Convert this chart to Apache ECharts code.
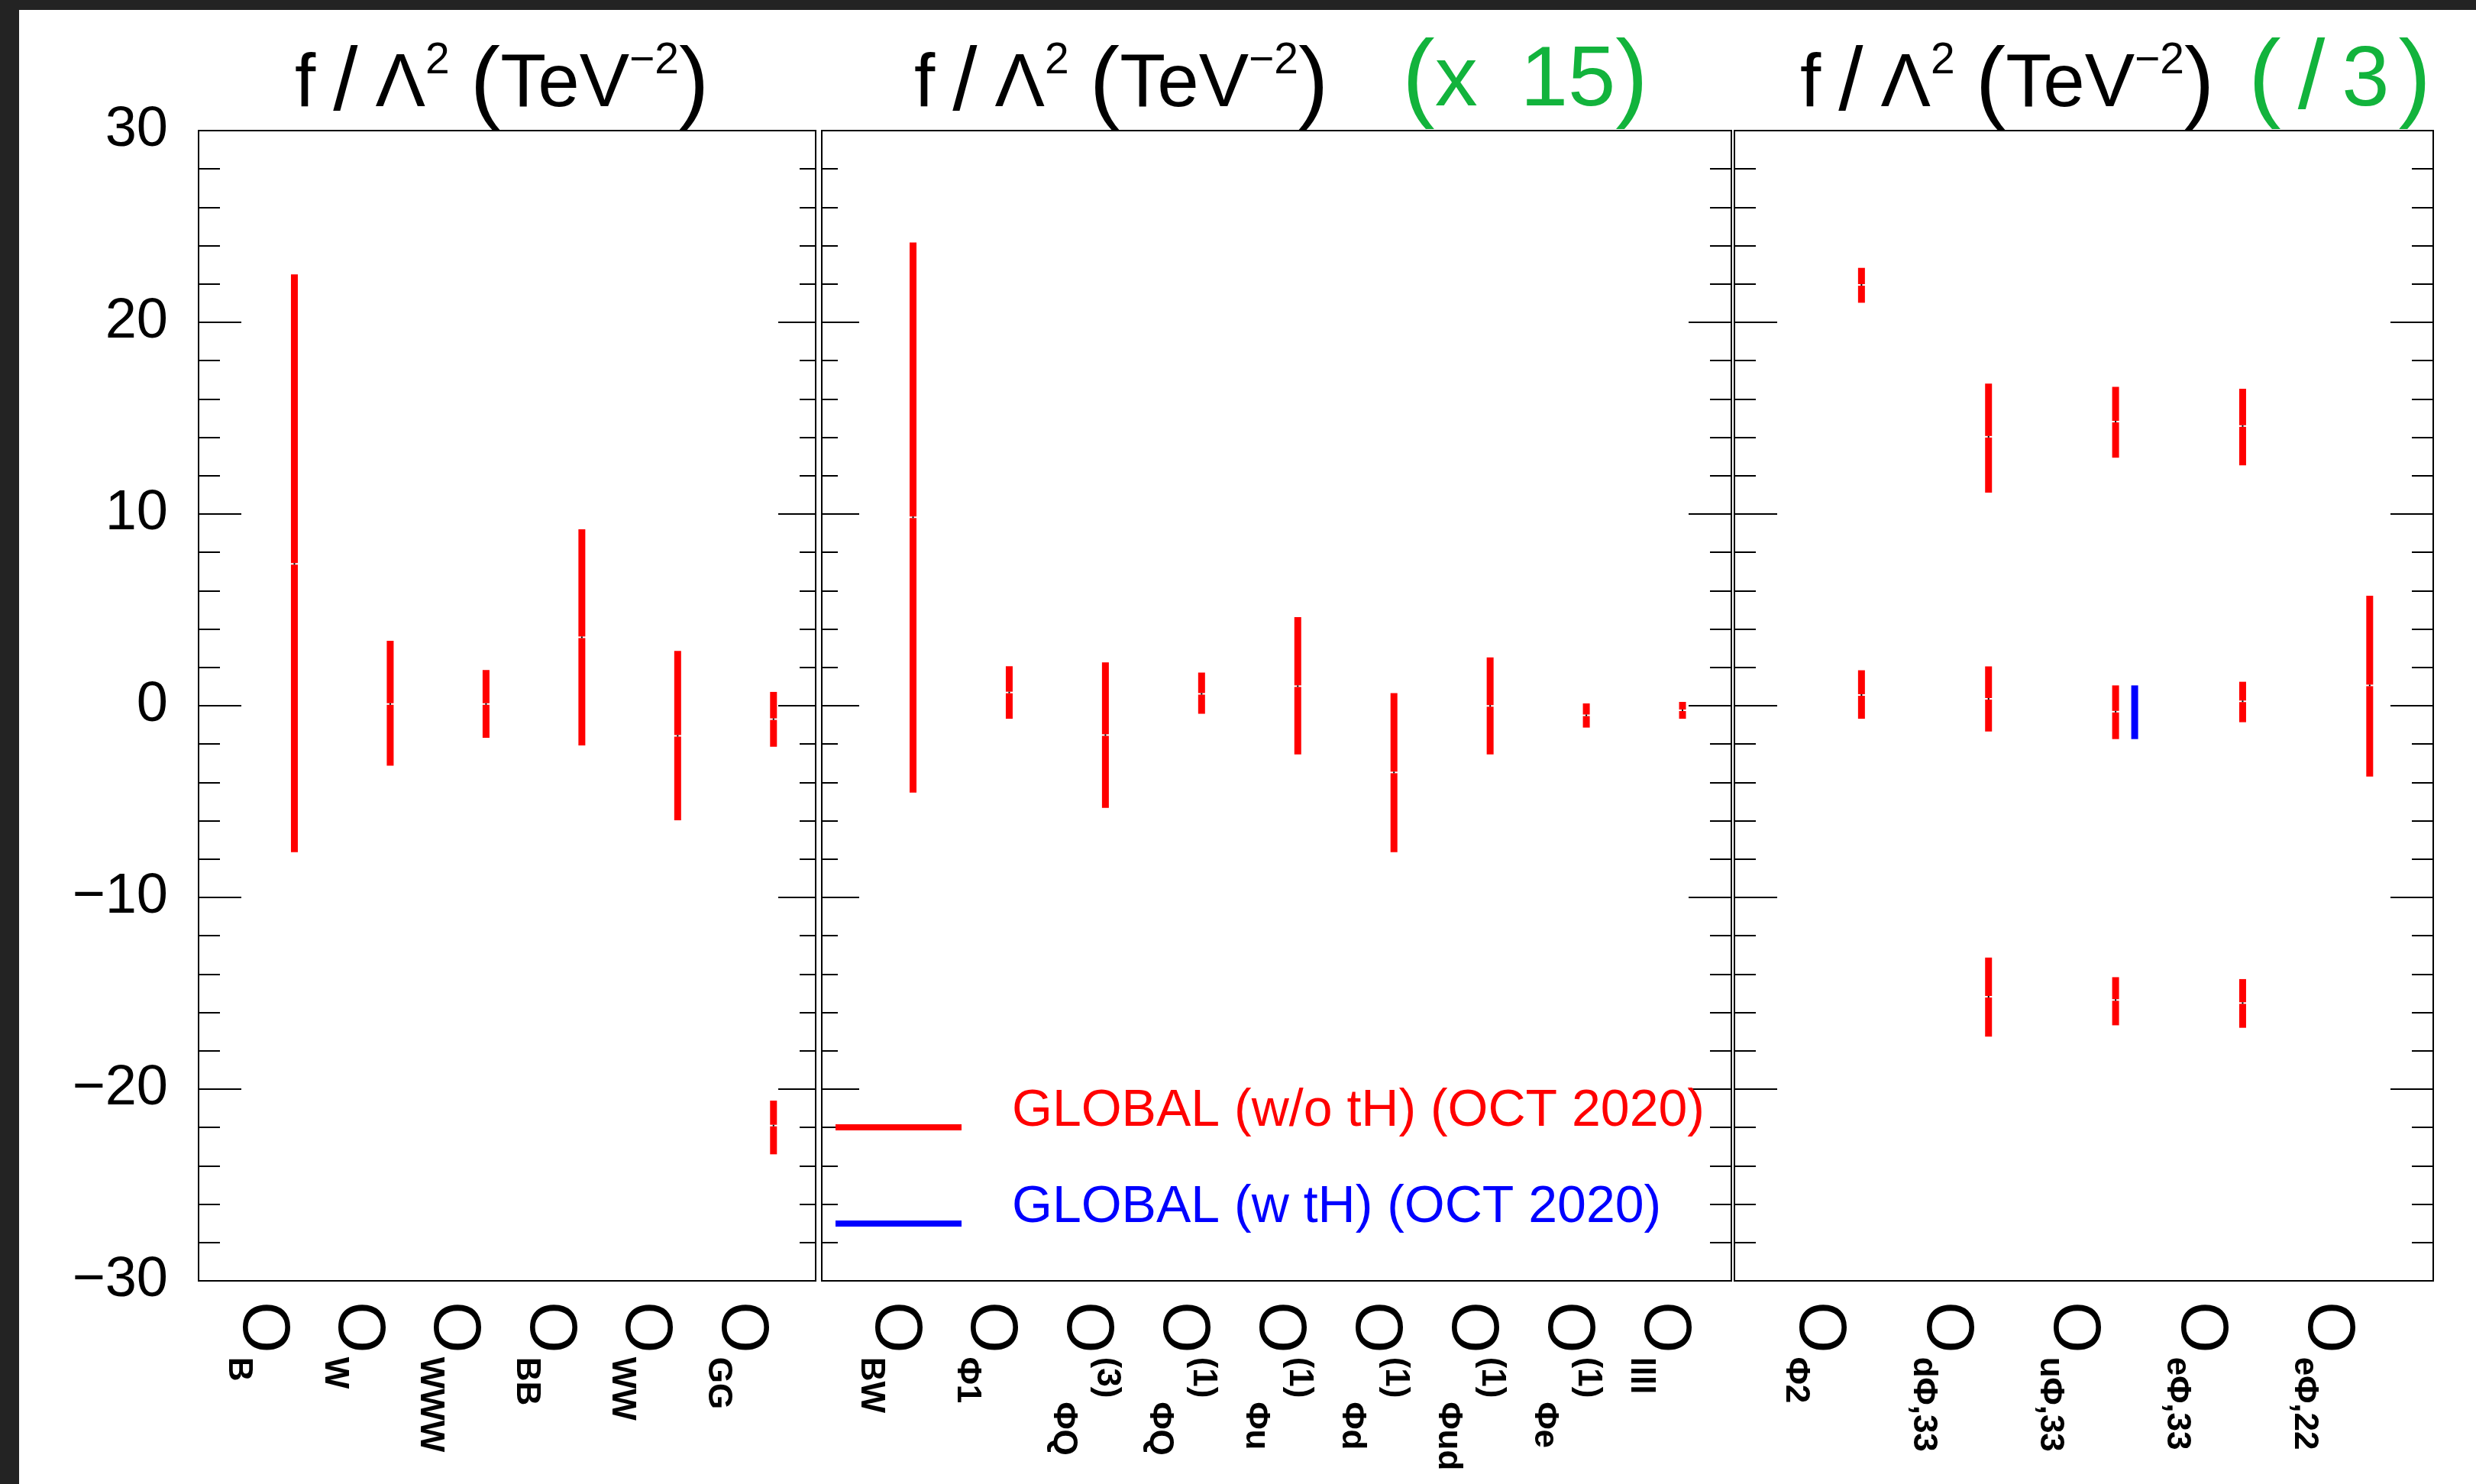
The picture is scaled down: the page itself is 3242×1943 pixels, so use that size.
<!DOCTYPE html>
<html><head><meta charset="utf-8">
<script src="https://cdn.jsdelivr.net/npm/echarts@6/dist/echarts.min.js"></script>
<style>
html,body{margin:0;padding:0;background:#232323;overflow:hidden}
#bg{position:absolute;left:25px;top:13px;right:0;bottom:0;background:#fff}
#c{position:absolute;left:0;top:0;width:3242px;height:1943px}
</style>
</head><body><div id="bg"></div><div id="c"></div>
<script>
// ---------------- data ----------------
const yTickValues = [-30, -20, -10, 0, 10, 20, 30];
const yTickLabels = ['\u221230', '\u221220', '\u221210', '0', '10', '20', '30'];

// panel 1 : f/Λ² (TeV⁻²)
const leftOps = ['B', 'W', 'WWW', 'BB', 'WW', 'GG'];
const leftSup = ['', '', '', '', '', ''];
const leftLow = [-7.64, -3.13, -1.67, -2.07, -5.98, -2.14];
const leftCentral = [7.4, 0.09, 0.09, 3.57, -1.57, -0.70];
const leftHigh = [22.5, 3.39, 1.86, 9.2, 2.86, 0.72];
const leftExtra = [[6, -23.4, -21.9, -20.6]]; // [operator #, low, central, high]

// panel 2 : f/Λ² (TeV⁻²) (x 15)
const midOps = ['BW', '\u03A61', '\u03A6Q', '\u03A6Q', '\u03A6u', '\u03A6d', '\u03A6ud', '\u03A6e', 'llll'];
const midSup = ['', '', '(3)', '(1)', '(1)', '(1)', '(1)', '(1)', ''];
const midLow = [-4.53, -0.68, -5.33, -0.42, -2.54, -7.64, -2.54, -1.14, -0.68];
const midCentral = [9.83, 0.69, -1.53, 0.62, 1.02, -3.48, -0.01, -0.50, -0.24];
const midHigh = [24.16, 2.06, 2.26, 1.73, 4.62, 0.66, 2.52, 0.12, 0.20];
const midExtra = [];

// panel 3 : f/Λ² (TeV⁻²) (/3)
const rightOps = ['\u03A62', 'd\u03A6,33', 'u\u03A6,33', 'e\u03A6,33', 'e\u03A6,22'];
const rightSup = ['', '', '', '', ''];
const rightLow = [-0.68, -1.34, -1.74, -0.86, -3.70];
const rightCentral = [0.56, 0.36, -0.31, 0.23, 1.06];
const rightHigh = [1.85, 2.05, 1.06, 1.25, 5.74];
const rightExtra = [
  [1, 21.02, 21.95, 22.84],
  [2, 11.12, 14.03, 16.80], [2, -17.26, -15.18, -13.14],
  [3, 12.94, 14.82, 16.63], [3, -16.67, -15.35, -14.16],
  [4, 12.54, 14.59, 16.53], [4, -16.80, -15.51, -14.26]
];
// GLOBAL (w tH): only O_uΦ,33
const withTHOp = [3];
const withTHLow = [-1.74];
const withTHHigh = [1.06];

const NAME_WO = 'GLOBAL (w/o tH) (OCT 2020)';
const NAME_W = 'GLOBAL (w tH) (OCT 2020)';

// ---------------- style ----------------
const FONT = "'Liberation Sans', Arial, Helvetica, sans-serif";
const RED = '#ff0000', BLUE = '#0000ff', GREEN = '#12b33c';

function intervals(low, central, high, extra) {
  const out = low.map((l, i) => [i + 1, l, central[i], high[i]]);
  extra.forEach(e => out.push(e.slice()));
  return out;
}

function makeRender(color, dx, marker) {
  return function (params, api) {
    const x = api.value(0), lo = api.value(1), c = api.value(2), hi = api.value(3);
    const top = api.coord([x, hi]), bot = api.coord([x, lo]);
    const cx = top[0] + dx;
    const ch = [{ type: 'rect', shape: { x: cx - 4.5, y: top[1], width: 9, height: bot[1] - top[1] }, style: { fill: color } }];
    if (marker && isFinite(c)) {
      const pc = api.coord([x, c]);
      ch.push({ type: 'rect', shape: { x: cx - 6, y: pc[1] - 1, width: 12, height: 2 }, style: { fill: '#fff' } });
      ch.push({ type: 'rect', shape: { x: cx - 1, y: pc[1] - 1, width: 2, height: 2 }, style: { fill: '#000' } });
    }
    return { type: 'group', children: ch };
  };
}

// tight rotated label box (height H in text frame), O centred 50.5 px below box top
const LBL_H = 104;
const OP_RICH = {
  o: { fontSize: 87, lineHeight: 87, fontWeight: 'normal', fontFamily: FONT, color: '#000', padding: [7, 3, LBL_H - 87 - 7, 0] },
  s: { fontSize: 44, fontWeight: 'bold', lineHeight: 44, fontFamily: FONT, color: '#000', padding: [58.5, 0, LBL_H - 44 - 58.5, 2] },
  u: { fontSize: 44, fontWeight: 'bold', lineHeight: 44, fontFamily: FONT, color: '#000', padding: [1.5, 3, LBL_H - 44 - 1.5, 2] }
};

// d: pixel distance of the "O" centre to the left of its bar; pxPerUnit: axis scale
function xAxisFor(gi, ops, sups, min, max, d, pxPerUnit) {
  const shift = (d + 1.5) / pxPerUnit;
  const vals = ops.map((o, i) => i + 1 - shift);
  return {
    type: 'value', gridIndex: gi, min: min, max: max, position: 'bottom',
    axisLine: { show: false }, axisTick: { show: false }, splitLine: { show: false },
    axisLabel: {
      show: true, customValues: vals, rotate: -90, margin: 27,
      align: 'left', verticalAlign: 'middle', hideOverlap: false,
      showMinLabel: true, showMaxLabel: true,
      formatter: function (v) {
        const i = Math.round(v + shift) - 1;
        return '{o|O}' + (sups[i] ? '{u|' + sups[i] + '}' : '') + '{s|' + ops[i] + '}';
      },
      rich: OP_RICH
    }
  };
}

function yAxisFor(gi, pos, major, minor, labels) {
  return {
    type: 'value', gridIndex: gi, position: pos, min: -30, max: 30, interval: 10,
    axisLine: { show: false },
    axisTick: { show: true, inside: true, length: major, lineStyle: { color: '#000', width: 2 } },
    minorTick: { show: true, splitNumber: 5, length: minor, lineStyle: { color: '#000', width: 2 } },
    splitLine: { show: false }, minorSplitLine: { show: false },
    axisLabel: {
      show: labels, margin: 40, fontSize: 74, fontFamily: FONT, color: '#000',
      showMinLabel: true, showMaxLabel: true,
      formatter: function (v) { const i = yTickValues.indexOf(Math.round(v)); return i >= 0 ? yTickLabels[i] : ''; }
    }
  };
}

const TITLE_RICH = {
  t: { fontSize: 98, lineHeight: 120, fontWeight: 'normal', fontFamily: FONT, color: '#000' },
  sl: { fontSize: 116, lineHeight: 120, fontWeight: 'normal', fontFamily: FONT, color: '#000', padding: [0, 23, 0, 23] },
  s: { fontSize: 57, lineHeight: 57, fontWeight: 'normal', verticalAlign: 'top', fontFamily: FONT, color: '#000' },
  p: { fontSize: 118, lineHeight: 120, fontWeight: 'normal', fontFamily: FONT, color: '#000' }
};
const BLACK_TITLE = '{t|f}{sl|/}{t|\u039B}{s|2}{t| }{p|(}{t|TeV}{s|\u22122}{p|)}';
const GREEN_RICH = {
  gp: { fontSize: 128, lineHeight: 130, fontWeight: 'normal', fontFamily: FONT, color: GREEN },
  g: { fontSize: 112, lineHeight: 130, fontWeight: 'normal', fontFamily: FONT, color: GREEN },
  gn: { fontSize: 112, lineHeight: 130, fontWeight: 'normal', fontFamily: FONT, color: GREEN, padding: [0, 0, 0, 25] },
  gs: { fontSize: 128, lineHeight: 130, fontWeight: 'normal', fontFamily: FONT, color: GREEN, padding: [0, 22, 0, 22] },
  g3: { fontSize: 112, lineHeight: 130, fontWeight: 'normal', fontFamily: FONT, color: GREEN, padding: [0, 12, 0, 0] }
};
const TITLE_TS = { fontWeight: 'normal', fontFamily: FONT };

const ICON = 'path://M0,0L226,0ZM0,42L165,42L165,50L0,50Z';

const chart = echarts.init(document.getElementById('c'), null, { renderer: 'canvas' });
chart.setOption({
  backgroundColor: 'transparent',
  animation: false,
  title: [
    { left: 386, top: 52, padding: 0, text: BLACK_TITLE, textStyle: Object.assign({ rich: TITLE_RICH }, TITLE_TS) },
    { left: 1197, top: 52, padding: 0, text: BLACK_TITLE, textStyle: Object.assign({ rich: TITLE_RICH }, TITLE_TS) },
    { left: 1836, top: 42, padding: 0, text: '{gp|(}{g|x }{gn|15}{gp|)}', textStyle: Object.assign({ rich: GREEN_RICH }, TITLE_TS) },
    { left: 2357, top: 52, padding: 0, text: BLACK_TITLE, textStyle: Object.assign({ rich: TITLE_RICH }, TITLE_TS) },
    { left: 2944, top: 42, padding: 0, text: '{gp|(}{gs|/}{g3|3}{gp|)}', textStyle: Object.assign({ rich: GREEN_RICH }, TITLE_TS) }
  ],
  legend: {
    left: 1094, top: 1421, orient: 'vertical', padding: 0, itemGap: 58,
    itemWidth: 226, itemHeight: 50, selectedMode: false,
    itemStyle: { borderWidth: 0 },
    textStyle: { fontSize: 68, lineHeight: 68, fontFamily: FONT, padding: 0 },
    data: [
      { name: NAME_WO, icon: ICON, textStyle: { color: RED } },
      { name: NAME_W, icon: ICON, textStyle: { color: BLUE } }
    ]
  },
  grid: [
    { left: 260, top: 171, width: 808, height: 1506, show: true, borderColor: '#000', borderWidth: 2, backgroundColor: 'transparent', containLabel: false, outerBoundsMode: 'none' },
    { left: 1076, top: 171, width: 1191, height: 1506, show: true, borderColor: '#000', borderWidth: 2, backgroundColor: 'transparent', containLabel: false, outerBoundsMode: 'none' },
    { left: 2271, top: 171, width: 915, height: 1506, show: true, borderColor: '#000', borderWidth: 2, backgroundColor: 'transparent', containLabel: false, outerBoundsMode: 'none' }
  ],
  xAxis: [
    xAxisFor(0, leftOps, leftSup, 0, 6.44, 43, 125.6),
    xAxisFor(1, midOps, midSup, 0.051, 9.508, 25, 125.9),
    xAxisFor(2, rightOps, rightSup, 0, 5.5, 56, 166.5)
  ],
  yAxis: [
    yAxisFor(0, 'left', 56, 28, true),
    yAxisFor(0, 'right', 49, 21, false),
    yAxisFor(1, 'left', 49, 21, false),
    yAxisFor(1, 'right', 56, 28, false),
    yAxisFor(2, 'left', 56, 28, false),
    yAxisFor(2, 'right', 56, 28, false)
  ],
  series: [
    { type: 'custom', name: NAME_WO, xAxisIndex: 0, yAxisIndex: 0, silent: true, clip: false,
      itemStyle: { color: RED }, encode: { x: 0, y: [1, 3] },
      data: intervals(leftLow, leftCentral, leftHigh, leftExtra), renderItem: makeRender(RED, 0, true) },
    { type: 'custom', name: NAME_WO, xAxisIndex: 1, yAxisIndex: 2, silent: true, clip: false,
      itemStyle: { color: RED }, encode: { x: 0, y: [1, 3] },
      data: intervals(midLow, midCentral, midHigh, midExtra), renderItem: makeRender(RED, 0, true) },
    { type: 'custom', name: NAME_WO, xAxisIndex: 2, yAxisIndex: 4, silent: true, clip: false,
      itemStyle: { color: RED }, encode: { x: 0, y: [1, 3] },
      data: intervals(rightLow, rightCentral, rightHigh, rightExtra), renderItem: makeRender(RED, 0, true) },
    { type: 'custom', name: NAME_W, xAxisIndex: 2, yAxisIndex: 4, silent: true, clip: false,
      itemStyle: { color: BLUE }, encode: { x: 0, y: [1, 3] },
      data: withTHOp.map((o, i) => [o, withTHLow[i], NaN, withTHHigh[i]]), renderItem: makeRender(BLUE, 25, false) }
  ]
});
</script>
</body></html>
